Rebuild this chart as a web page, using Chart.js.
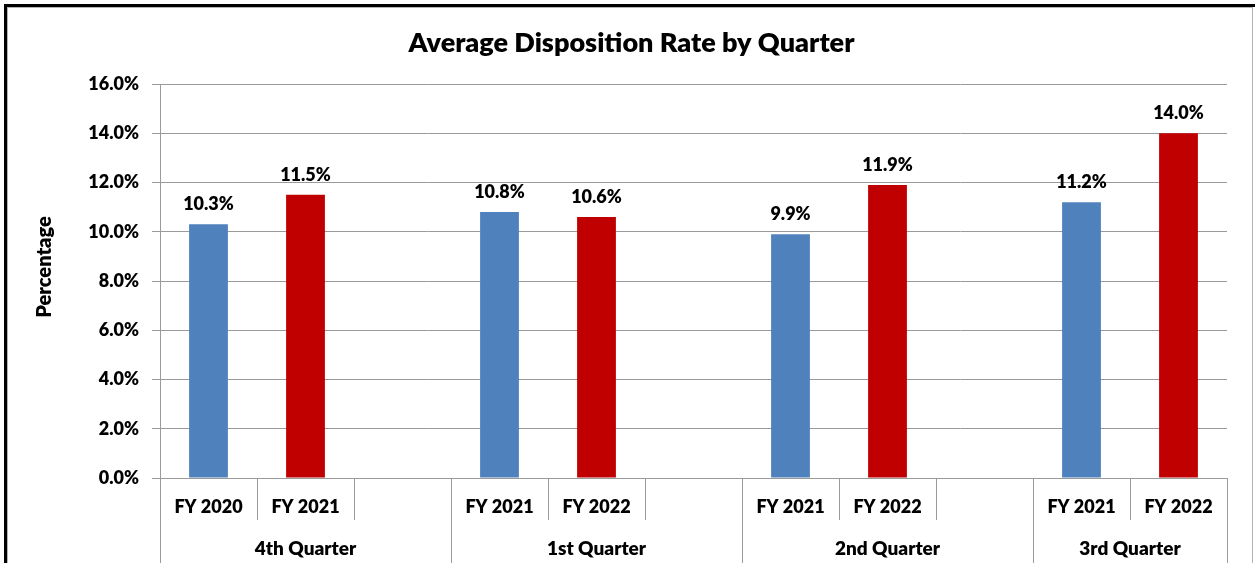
<!DOCTYPE html>
<html>
<head>
<meta charset="utf-8">
<title>Average Disposition Rate by Quarter</title>
<script src="https://cdn.jsdelivr.net/npm/chart.js@4.4.1/dist/chart.umd.min.js"></script>
<style>
  html, body { margin: 0; padding: 0; background: #fff; }
  canvas { display: block; }
</style>
</head>
<body>
<canvas id="chart" width="1255" height="563"></canvas>
<script>
// data
const quarters = ["4th Quarter", "1st Quarter", "2nd Quarter", "3rd Quarter"];
const priorYears = ["FY 2020", "FY 2021", "FY 2021", "FY 2021"];
const currentYears = ["FY 2021", "FY 2022", "FY 2022", "FY 2022"];
const priorRates = [10.3, 10.8, 9.9, 11.2];
const currentRates = [11.5, 10.6, 11.9, 14.0];
const yTickValues = [0, 2, 4, 6, 8, 10, 12, 14, 16];

const FONT = "Lato";
const WEIGHT = "800";
const GRID = "#9a9a9a";
const BLUE = "#4F81BD";
const RED = "#C00000";

// Excel-style layout: two bars per quarter plus an empty slot between quarters
const slotLabels = [];
const priorSeries = [];
const currentSeries = [];
const groups = [];
quarters.forEach((q, i) => {
  const start = slotLabels.length;
  slotLabels.push(priorYears[i], currentYears[i]);
  priorSeries.push(priorRates[i], null);
  currentSeries.push(null, currentRates[i]);
  if (i < quarters.length - 1) {
    slotLabels.push("");
    priorSeries.push(null);
    currentSeries.push(null);
  }
  groups.push({ label: q, start: start, end: slotLabels.length - 1 });
});

const excelDecor = {
  id: "excelDecor",
  beforeDraw(chart) {
    const ctx = chart.ctx;
    const w = chart.width, h = chart.height;
    ctx.save();
    ctx.fillStyle = "#fff";
    ctx.fillRect(0, 0, w, h);
    // outer frame
    ctx.fillStyle = "#000";
    ctx.fillRect(4, 4, w - 4, 3);
    ctx.fillRect(4, 4, 3, h - 4);
    ctx.fillStyle = "#b4b4b4";
    ctx.fillRect(7, 7, w - 9, 1);
    ctx.fillRect(7, 7, 1, h - 7);
    ctx.fillRect(w - 3, 7, 1, h - 7);
    ctx.restore();
  },
  afterDatasetsDraw(chart) {
    const ctx = chart.ctx;
    ctx.save();
    ctx.fillStyle = "#000";
    ctx.font = WEIGHT + " 18px " + FONT;
    ctx.textAlign = "center";
    ctx.textBaseline = "alphabetic";
    chart.data.datasets.forEach((ds, di) => {
      chart.getDatasetMeta(di).data.forEach((bar, i) => {
        const v = ds.data[i];
        if (v === null || v === undefined) return;
        ctx.fillText(v.toFixed(1) + "%", bar.x, bar.y - 14);
      });
    });
    ctx.restore();
  },
  afterDraw(chart) {
    const ctx = chart.ctx;
    const xs = chart.scales.x;
    const area = chart.chartArea;
    const slot = (xs.right - xs.left) / slotLabels.length;
    const groupEdges = new Set(groups.map(g => g.start));
    groupEdges.add(slotLabels.length);

    ctx.save();
    // category separators below the axis
    ctx.strokeStyle = GRID;
    ctx.lineWidth = 1;
    ctx.beginPath();
    for (let i = 0; i <= slotLabels.length; i++) {
      const bx = Math.round(xs.left + i * slot) + 0.5;
      const bottom = groupEdges.has(i) ? chart.height : area.bottom + 42;
      ctx.moveTo(bx, area.bottom);
      ctx.lineTo(bx, bottom);
    }
    ctx.stroke();

    // quarter labels
    ctx.fillStyle = "#000";
    ctx.font = WEIGHT + " 19px " + FONT;
    ctx.textAlign = "center";
    ctx.textBaseline = "alphabetic";
    groups.forEach(g => {
      const cx = xs.left + ((g.start + g.end + 1) / 2) * slot;
      ctx.fillText(g.label, cx, area.bottom + 77);
    });

    // chart title
    ctx.font = WEIGHT + " 27px " + FONT;
    ctx.fillText("Average Disposition Rate by Quarter", (area.left + area.right) / 2 - 62, 52);

    // y axis title
    ctx.font = WEIGHT + " 20px " + FONT;
    ctx.translate(51, (area.top + area.bottom) / 2 - 14);
    ctx.rotate(-Math.PI / 2);
    ctx.fillText("Percentage", 0, 0);
    ctx.restore();
  }
};

new Chart(document.getElementById("chart").getContext("2d"), {
  type: "bar",
  data: {
    labels: slotLabels,
    datasets: [
      {
        label: "Prior year",
        data: priorSeries,
        backgroundColor: BLUE,
        grouped: false,
        barPercentage: 0.4,
        categoryPercentage: 1
      },
      {
        label: "Current year",
        data: currentSeries,
        backgroundColor: RED,
        grouped: false,
        barPercentage: 0.4,
        categoryPercentage: 1
      }
    ]
  },
  options: {
    responsive: false,
    animation: false,
    layout: { padding: { top: 84, right: 28, bottom: 0, left: 0 } },
    plugins: {
      legend: { display: false },
      title: { display: false },
      tooltip: { enabled: false }
    },
    scales: {
      x: {
        afterFit: scale => { scale.height = 85; },
        grid: { display: false, drawTicks: false },
        border: { display: true, color: GRID },
        ticks: {
          autoSkip: false,
          maxRotation: 0,
          padding: 18,
          color: "#000",
          font: { family: FONT, size: 18, weight: WEIGHT }
        }
      },
      y: {
        min: 0,
        max: 16,
        afterFit: scale => { scale.width = 160; },
        afterBuildTicks: scale => { scale.ticks = yTickValues.map(v => ({ value: v })); },
        grid: { color: GRID, tickLength: 8 },
        border: { display: true, color: GRID },
        ticks: {
          padding: 13,
          color: "#000",
          font: { family: FONT, size: 18, weight: WEIGHT },
          callback: v => Number(v).toFixed(1) + "%"
        }
      }
    }
  },
  plugins: [excelDecor]
});
</script>
</body>
</html>
